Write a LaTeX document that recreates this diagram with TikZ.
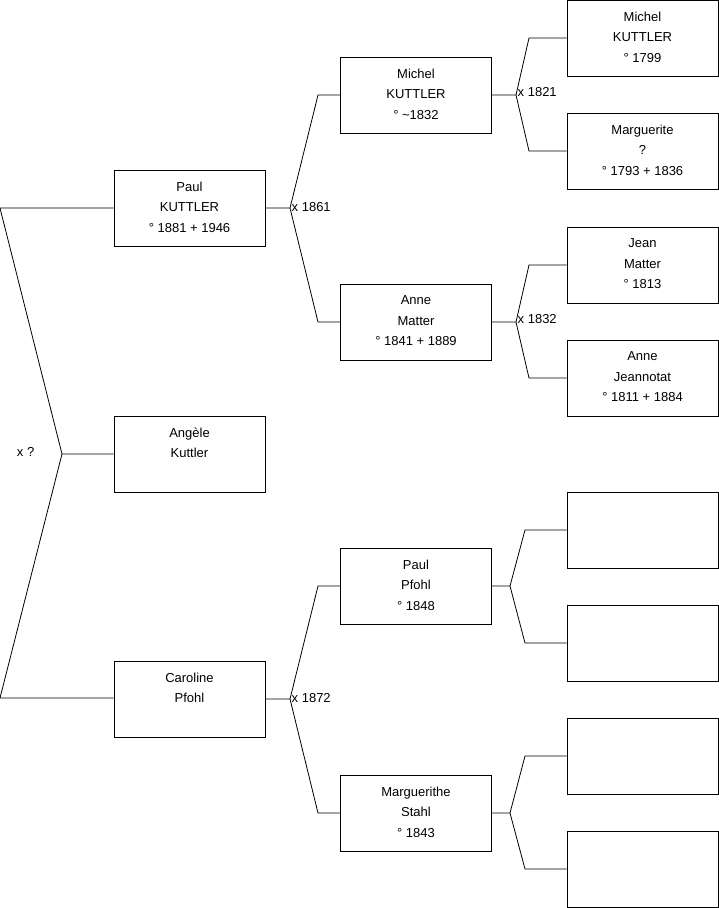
\documentclass[tikz,border=0pt]{standalone}
\usepackage{fontspec}
\setmainfont{Liberation Sans}
\usetikzlibrary{positioning}
\tikzset{
  person/.style={draw, line width=0.8pt, minimum width=151pt, minimum height=76pt,
    align=center, font=\fontsize{13}{20.5}\selectfont, inner sep=0pt},
  link/.style={line width=0.8pt},
  wed/.style={font=\fontsize{13}{14}\selectfont, inner sep=1.5pt}
}
\begin{document}
\begin{tikzpicture}[x=1pt, y=-1pt]
\useasboundingbox (0,0) rectangle (719,908);
% generation 1
\node[person] (paul) at (189.5,208) {Paul\\KUTTLER\\° 1881 + 1946\vspace{2pt}};
\node[person] (angele) at (189.5,454) {Angèle\\Kuttler\\\mbox{}\vspace{2pt}};
\node[person] (caroline) at (189.5,699) {Caroline\\Pfohl\\\mbox{}\vspace{2pt}};
% generation 2
\node[person] (michel) at (416,95) {Michel\\KUTTLER\\° \textasciitilde1832\vspace{2pt}};
\node[person] (anne) at (416,322) {Anne\\Matter\\° 1841 + 1889\vspace{2pt}};
\node[person] (paulp) at (416,586) {Paul\\Pfohl\\° 1848\vspace{2pt}};
\node[person] (marg) at (416,813) {Marguerithe\\Stahl\\° 1843\vspace{2pt}};
% generation 3
\node[person] (micheld) at (642.5,38) {Michel\\KUTTLER\\° 1799\vspace{2pt}};
\node[person] (margd) at (642.5,151) {Marguerite\\?\\° 1793 + 1836\vspace{2pt}};
\node[person] (jean) at (642.5,265) {Jean\\Matter\\° 1813\vspace{2pt}};
\node[person] (anned) at (642.5,378) {Anne\\Jeannotat\\° 1811 + 1884\vspace{2pt}};
\node[person] (pp1) at (642.5,530) {};
\node[person] (pp2) at (642.5,643) {};
\node[person] (ms1) at (642.5,756) {};
\node[person] (ms2) at (642.5,869) {};

% parents of Angele
\coordinate (f0) at (62,454);
\coordinate (f0a) at (0,208);
\coordinate (f0b) at (0,698);
\draw[link] (angele.west) -- (f0) -- (f0a) -- (paul.west);
\draw[link] (f0) -- (f0b) -- (caroline.west |- f0b);
\node[wed, anchor=east] (w0) at (36,452) {x ?};

% parents of Paul
\coordinate (f1) at (290,208);
\draw[link] (paul.east) -- (f1) -- (318,95) -- (michel.west);
\draw[link] (f1) -- (318,322) -- (anne.west);
\node[wed, anchor=west] (w1) at ([yshift=1pt]f1) {x 1861};

% parents of Caroline
\coordinate (f2) at (290,699);
\draw[link] (caroline.east) -- (f2) -- (318,586) -- (paulp.west);
\draw[link] (f2) -- (318,813) -- (marg.west);
\node[wed, anchor=west] (w2) at ([yshift=1pt]f2) {x 1872};

% parents of Michel
\coordinate (f3) at (516,95);
\draw[link] (michel.east) -- (f3) -- (529,38) -- (micheld.west);
\draw[link] (f3) -- (529,151) -- (margd.west);
\node[wed, anchor=west] (w3) at ([yshift=3pt]f3) {x 1821};

% parents of Anne
\coordinate (f4) at (516,322);
\draw[link] (anne.east) -- (f4) -- (529,265) -- (jean.west);
\draw[link] (f4) -- (529,378) -- (anned.west);
\node[wed, anchor=west] (w4) at ([yshift=3pt]f4) {x 1832};

% parents of Paul Pfohl
\coordinate (f5) at (510,586);
\draw[link] (paulp.east) -- (f5) -- (525,530) -- (pp1.west);
\draw[link] (f5) -- (525,643) -- (pp2.west);

% parents of Marguerithe
\coordinate (f6) at (510,813);
\draw[link] (marg.east) -- (f6) -- (525,756) -- (ms1.west);
\draw[link] (f6) -- (525,869) -- (ms2.west);
\end{tikzpicture}
\end{document}
